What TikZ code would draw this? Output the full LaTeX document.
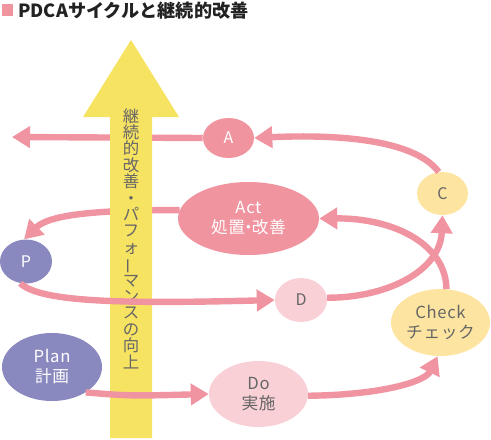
\documentclass[tikz,border=0pt]{standalone}
\usepackage{fontspec}
\setmainfont{Noto Sans CJK JP}
\usetikzlibrary{shapes.geometric,arrows.meta}
\definecolor{pinkarr}{HTML}{F194A1}
\definecolor{pinkdark}{HTML}{F0949F}
\definecolor{pinklight}{HTML}{F9D0D6}
\definecolor{purp}{HTML}{8A89BF}
\definecolor{yellowlight}{HTML}{FDE5A1}
\definecolor{yellowbig}{HTML}{F7E362}
\definecolor{graytxt}{HTML}{666666}
\definecolor{titletxt}{HTML}{222222}
\tikzset{
  blob/.style={ellipse, inner sep=0pt, align=center},
  bigtxt/.style={font=\fontsize{12.5pt}{15pt}\selectfont\addfontfeature{LetterSpace=4}},
  smalltxt/.style={font=\fontsize{12pt}{13pt}\selectfont},
  darkpink/.style={blob, fill=pinkdark, text=white},
  lightpink/.style={blob, fill=pinklight, text=graytxt},
  purple/.style={blob, fill=purp, text=white},
  lightyellow/.style={blob, fill=yellowlight, text=graytxt},
  flow/.style={draw=pinkarr, line width=4.8pt, -{Triangle[length=13.5pt,width=15.75pt]}},
}
\begin{document}
\begin{tikzpicture}[x=0.75pt,y=-0.75pt]
\useasboundingbox (0,0) rectangle (491,439);
% title
\fill[pinkdark] (2,4) rectangle (13,16);
\node[anchor=base west, inner sep=0pt, text=titletxt, font=\fontsize{13.6pt}{15pt}\selectfont\bfseries] (title) at (18,17) {PDCAサイクルと継続的改善};
% nodes
\node[darkpink, smalltxt, minimum width=51*0.75pt, minimum height=40*0.75pt] (A) at (228.5,138) {A};
\node[darkpink, bigtxt, minimum width=141*0.75pt, minimum height=73*0.75pt] (Act) at (248.5,218.5) {Act\\処置\kern-0.3em・\kern-0.3em改善};
\node[lightyellow, smalltxt, minimum width=51*0.75pt, minimum height=43*0.75pt] (C) at (442.5,193.5) {C};
\node[purple, smalltxt, minimum width=52*0.75pt, minimum height=44*0.75pt] (P) at (26,261.5) {P};
\node[lightpink, smalltxt, minimum width=52*0.75pt, minimum height=44*0.75pt] (D) at (301,300) {D};
\node[lightyellow, bigtxt, minimum width=99*0.75pt, minimum height=67*0.75pt] (Check) at (440.5,322.5) {Check\\チェック};
\node[purple, bigtxt, minimum width=100*0.75pt, minimum height=68*0.75pt] (Plan) at (52,367) {Plan\\計画};
\node[lightpink, bigtxt, minimum width=99*0.75pt, minimum height=66*0.75pt] (Do) at (258.5,394) {Do\\実施};
\coordinate (leftend) at (12,137);
% arrows behind the big arrow
\draw[flow] (A.west) -- (leftend);
\draw[flow] (Act.173) .. controls (100,210) and (50,214) .. (P.95);
% big yellow arrow
\fill[yellowbig] (110,438) -- (110,117) -- (83,117) -- (131,40) -- (179,117) -- (152,117) -- (152,438) -- cycle;
\node[align=center, text=graytxt, inner sep=0pt, font=\fontsize{12.3pt}{12.3pt}\selectfont] (vt) at (131,238.5)
  {継\\続\\的\\改\\善\\・\\パ\\フ\\ォ\\\rotatebox[origin=c]{90}{ー}\\マ\\ン\\ス\\の\\向\\上};
% arrows in front of the big arrow
\draw[flow] (P.-105) .. controls (40,302) and (120,304) .. (D.west);
\draw[flow] (Plan.-37) .. controls (130,396) .. (Do.west);
% remaining arrows
\draw[flow] (Check.80) .. controls (446,245) and (395,218) .. (Act.east);
\draw[flow] (D.5) .. controls (385,298) and (440,272) .. (C.south);
\draw[flow] (C.100) .. controls (415,140) and (340,134) .. (A.east);
\draw[flow] (Do.-2) .. controls (380,395) and (425,382) .. (Check.-95);
\end{tikzpicture}
\end{document}
